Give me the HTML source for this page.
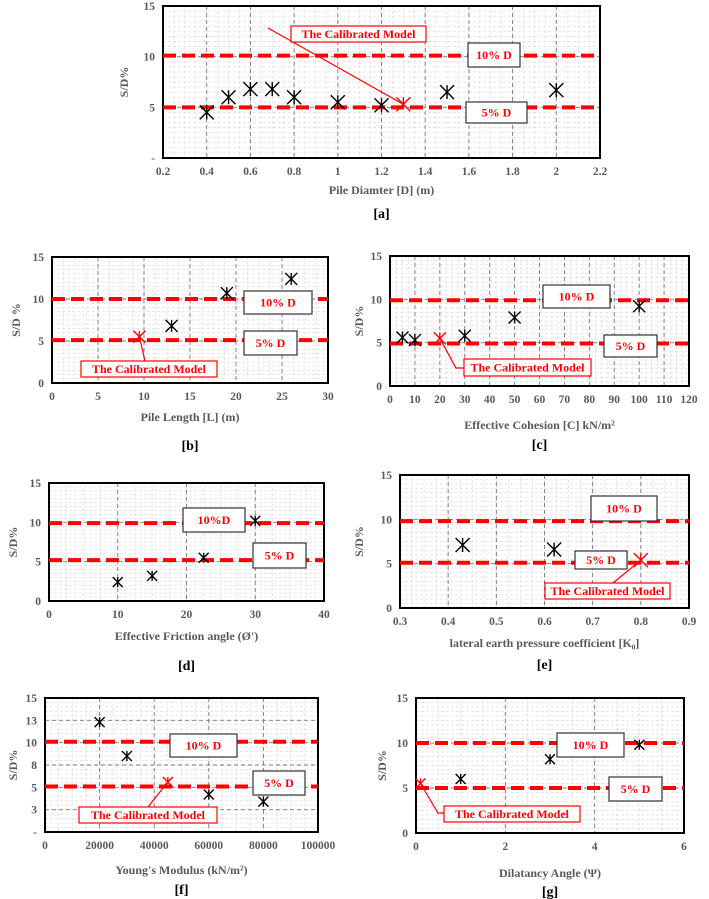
<!DOCTYPE html>
<html><head><meta charset="utf-8"><style>
html,body{margin:0;padding:0;background:#fff;}
svg{display:block;font-family:"Liberation Serif",serif;font-weight:bold;}
</style></head><body>
<svg id="fig" width="709" height="899" viewBox="0 0 709 899"></svg>
<script>
// ---- data ----
const aX=[0.4,0.5,0.6,0.7,0.8,1.0,1.2,1.5,2.0];
const aY=[4.5,6.0,6.8,6.8,6.0,5.5,5.2,6.5,6.7];
const aCal=[1.3,5.3];
const aLimits=[10.1,5.0];
const bX=[13,19,26];
const bY=[6.8,10.7,12.4];
const bCal=[9.5,5.5];
const bLimits=[10.0,5.1];
const cX=[5,10,30,50,100];
const cY=[5.6,5.3,5.8,7.9,9.2];
const cCal=[20,5.5];
const cLimits=[9.9,4.9];
const dX=[10,15,22.5,30];
const dY=[2.4,3.2,5.5,10.2];
const dLimits=[9.9,5.2];
const eX=[0.43,0.62];
const eY=[7.1,6.6];
const eCal=[0.8,5.4];
const eLimits=[9.8,5.1];
const fX=[20000,30000,60000,80000];
const fY=[12.3,8.5,4.2,3.4];
const fCal=[45000,5.6];
const fLimits=[10.1,5.1];
const gX=[1,3,5];
const gY=[6.0,8.2,9.8];
const gCal=[0.1,5.5];
const gLimits=[10.0,5.0];
const aXTicks=["0.2","0.4","0.6","0.8","1","1.2","1.4","1.6","1.8","2","2.2"];
const yTicks=["0","5","10","15"];
const yTicksDash=["-","5","10","15"];
const fYTicks=["-","3","5","8","10","13","15"];

const NS="http://www.w3.org/2000/svg";
const svg=document.getElementById('fig');
function el(tag,attrs,parent,text){const e=document.createElementNS(NS,tag);for(const k in attrs)e.setAttribute(k,attrs[k]);if(text!==undefined)e.textContent=text;(parent||svg).appendChild(e);return e;}

function chart(c){
  const g=el('g',{});
  
  
  const sx=v=>c.L+(v-c.x0)/(c.x1-c.x0)*(c.R-c.L);
  const sy=v=>c.B-(v-c.y0)/(c.y1-c.y0)*(c.B-c.T);
  const nMinX=c.xTicks.length*2-2, nMinY=15;
  for(let i=1;i<nMinX*2;i++){const x=c.L+i*(c.R-c.L)/(nMinX*2);el('line',{x1:x,x2:x,y1:c.T,y2:c.B,stroke:'#ddd','stroke-width':0.7,'stroke-dasharray':'3,2'},g);}
  for(let i=1;i<nMinY*2;i++){const y=c.T+i*(c.B-c.T)/(nMinY*2);el('line',{x1:c.L,x2:c.R,y1:y,y2:y,stroke:'#ddd','stroke-width':0.7,'stroke-dasharray':'3,2'},g);}
  c.xTicks.forEach((t,i)=>{const v=c.x0+i*(c.x1-c.x0)/(c.xTicks.length-1);const x=sx(v);
    if(i>0&&i<c.xTicks.length-1)el('line',{x1:x,x2:x,y1:c.T,y2:c.B,stroke:'#777','stroke-width':0.9,'stroke-dasharray':'4,3'},g);
    const tl=el('text',{x:x,y:c.B+17,'text-anchor':'middle','font-size':11.5,fill:'#595959'},g,t);
    
    });
  c.yTicks.forEach((t,i)=>{const v=c.y0+i*(c.y1-c.y0)/(c.yTicks.length-1);const y=sy(v);
    if(i>0&&i<c.yTicks.length-1)el('line',{x1:c.L,x2:c.R,y1:y,y2:y,stroke:'#777','stroke-width':0.9,'stroke-dasharray':'4,3'},g);
    const tl=el('text',{x:c.L-8,y:y+4,'text-anchor':'end','font-size':11.5,fill:'#595959'},g,t);
    
    });
  const fr=el('rect',{x:c.L,y:c.T,width:c.R-c.L,height:c.B-c.T,fill:'none',stroke:'#000','stroke-width':2},g);
  
  
  c.limits.forEach((v,i)=>{const ln=el('line',{x1:c.L,x2:c.R,y1:sy(v),y2:sy(v),stroke:'#ff0000','stroke-width':4,'stroke-dasharray':'13,6'},g);
    
    });
  if(c.cal&&c.arrow){let pts=sx(c.cal[0])+','+sy(c.cal[1]);c.arrow.forEach(p=>{pts+=' '+p[0]+','+p[1];});
    const ar=el('polyline',{points:pts,fill:'none',stroke:'#ff0000','stroke-width':1.2},g);
    
    }
  c.boxes.forEach(b=>{const bg=el('g',{},g);
    
    
    el('rect',{x:b.x,y:b.y,width:b.w,height:b.h,fill:'#fff',stroke:b.red?'#ff0000':'#333','stroke-width':1.2},bg);
    el('text',{x:b.x+b.w/2,y:b.y+b.h/2+4,'text-anchor':'middle','font-size':b.fs||12,fill:'#ff0000'},bg,b.text);});
  const m=c.ms||6;
  c.xs.forEach((v,i)=>{const x=sx(v),y=sy(c.ys[i]);const p=el('path',{d:`M${x-m} ${y-m}L${x+m} ${y+m}M${x+m} ${y-m}L${x-m} ${y+m}M${x} ${y-m}L${x} ${y+m}`,stroke:'#000','stroke-width':1.4,fill:'none'},g);
    
    });
  if(c.cal){const x=sx(c.cal[0]),y=sy(c.cal[1]);const p=el('path',{d:`M${x-m} ${y-m}L${x+m} ${y+m}M${x+m} ${y-m}L${x-m} ${y+m}M${x} ${y-m}L${x} ${y}`,stroke:'#ff0000','stroke-width':1.4,fill:'none'},g);
    
    }
  const xt=el('text',{x:(c.L+c.R)/2,y:c.xlY,'text-anchor':'middle','font-size':12,fill:'#595959'},g,c.xl);
  
  
  const yt=el('text',{x:c.ylX,y:(c.T+c.B)/2,'text-anchor':'middle','font-size':12,fill:'#595959',transform:`rotate(-90 ${c.ylX} ${(c.T+c.B)/2})`},g,c.yl);
  
  
  const pl=el('text',{x:(c.L+c.R)/2,y:c.panY,'text-anchor':'middle','font-size':14,fill:'#000'},g,c.panel);
  
  
}
function box10(x,y,w,h,t){return {name:'label-10pct',x,y,w,h,text:t||'10% D'};}
function box5(x,y,w,h,t){return {name:'label-5pct',x,y,w,h,text:t||'5% D'};}
function boxC(x,y,w,h){return {name:'calibrated-model-label',x,y,w,h,text:'The Calibrated Model',red:true};}

chart({id:'a',L:163,R:600,T:6,B:158,x0:0.2,x1:2.2,y0:0,y1:15,xTicks:aXTicks,yTicks:yTicksDash,xs:aX,ys:aY,cal:aCal,limits:aLimits,ms:7,
  boxes:[boxC(291,26,135,16),box10(468,43,52,24),box5(466,102,61,21)],arrow:[[268,28]],
  xl:'Pile Diamter [D] (m)',xlY:194,yl:'S/D%',ylX:128,panel:'[a]',panY:218});
chart({id:'b',L:52,R:328,T:257,B:383,x0:0,x1:30,y0:0,y1:15,xTicks:["0","5","10","15","20","25","30"],yTicks:yTicks,xs:bX,ys:bY,cal:bCal,limits:bLimits,ms:6,
  boxes:[box10(244,291,68,23),box5(244,331,53,24),boxC(81,361,136,16)],arrow:[[145,361]],
  xl:'Pile Length [L] (m)',xlY:421,yl:'S/D %',ylX:20,panel:'[b]',panY:450});
chart({id:'c',L:390,R:689,T:256,B:386,x0:0,x1:120,y0:0,y1:15,xTicks:["0","10","20","30","40","50","60","70","80","90","100","110","120"],yTicks:yTicks,xs:cX,ys:cY,cal:cCal,limits:cLimits,ms:6,
  boxes:[box10(543,285,67,23),box5(604,335,53,22),boxC(464,359,127,17)],arrow:[[456,368],[464,368]],
  xl:'Effective Cohesion [C] kN/m²',xlY:429,yl:'S/D%',ylX:363,panel:'[c]',panY:449});
chart({id:'d',L:49,R:324,T:483,B:601,x0:0,x1:40,y0:0,y1:15,xTicks:["0","10","20","30","40"],yTicks:yTicks,xs:dX,ys:dY,cal:null,limits:dLimits,ms:5,
  boxes:[box10(183,508,62,24,'10%D'),box5(253,543,53,25)],arrow:null,
  xl:"Effective Friction angle (Ø')",xlY:640,yl:'S/D%',ylX:17,panel:'[d]',panY:670});
chart({id:'e',L:400,R:689,T:475,B:608,x0:0.3,x1:0.9,y0:0,y1:15,xTicks:["0.3","0.4","0.5","0.6","0.7","0.8","0.9"],yTicks:yTicks,xs:eX,ys:eY,cal:eCal,limits:eLimits,ms:7,
  boxes:[box10(591,496,66,25),box5(575,551,52,18),boxC(545,583,125,16)],arrow:[[613,583]],
  xl:'lateral earth pressure coefficient [K₀]',xlY:647,yl:'S/D%',ylX:363,panel:'[e]',panY:669});
chart({id:'f',L:45,R:318,T:698,B:832,x0:0,x1:100000,y0:0,y1:15,xTicks:["0","20000","40000","60000","80000","100000"],yTicks:fYTicks,xs:fX,ys:fY,cal:fCal,limits:fLimits,ms:5,
  boxes:[box10(170,734,67,23),box5(253,771,52,24),boxC(79,807,138,16)],arrow:[[148,807]],
  xl:"Young's Modulus (kN/m²)",xlY:874,yl:'S/D%',ylX:17,panel:'[f]',panY:894});
chart({id:'g',L:416,R:684,T:698,B:833,x0:0,x1:6,y0:0,y1:15,xTicks:["0","2","4","6"],yTicks:yTicks,xs:gX,ys:gY,cal:gCal,limits:gLimits,ms:5,
  boxes:[box10(557,733,67,24),box5(609,777,53,24),boxC(444,806,136,16)],arrow:[[438,813],[444,813]],
  xl:'Dilatancy Angle (Ψ)',xlY:877,yl:'S/D%',ylX:386,panel:'[g]',panY:896});
</script>
</body></html>
